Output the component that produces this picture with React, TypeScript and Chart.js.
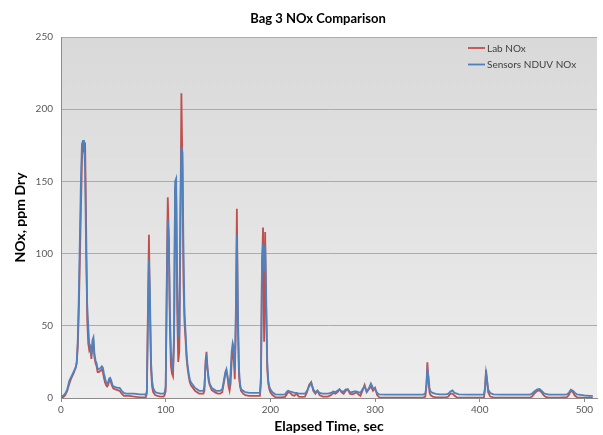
import React, { useEffect, useRef } from 'react';
import { Chart, registerables } from 'chart.js';

Chart.register(...registerables);

const chartTitle = 'Bag 3 NOx Comparison';
const xAxisTitle = 'Elapsed Time, sec';
const yAxisTitle = 'NOx, ppm Dry';
const seriesLabels = ['Lab NOx', 'Sensors NDUV NOx'];
const xTickValues = [0, 100, 200, 300, 400, 500];
const yTickValues = [0, 50, 100, 150, 200, 250];

const elapsedSec = [
  0, 2, 4, 6, 8, 10, 12, 14, 15, 16, 17, 18, 19, 20, 21, 22, 23, 24, 25, 26, 27, 28, 29, 30, 31, 32, 33, 34, 35, 36, 38, 39, 40,
  41, 42, 43, 44, 45, 46, 47, 48, 49, 50, 52, 54, 56, 57, 58, 60, 62, 65, 70, 75, 80, 81, 82, 83, 84, 85, 86, 87, 88, 90, 92, 95,
  97, 98, 99, 100, 101, 102, 103, 104, 105, 106, 107, 108, 109, 110, 111, 112, 113, 114, 115, 116, 117, 118, 119, 120, 121, 122,
  123, 124, 126, 128, 130, 132, 134, 136, 137, 138, 139, 140, 141, 142, 144, 146, 148, 150, 152, 154, 155, 156, 157, 158, 159, 160,
  161, 162, 163, 164, 165, 166, 167, 168, 169, 170, 171, 172, 174, 176, 180, 185, 190, 191, 192, 193, 194, 195, 196, 197, 198, 199,
  200, 202, 204, 205, 210, 214, 216, 217, 219, 221, 223, 225, 227, 230, 233, 235, 237, 239, 241, 243, 245, 247, 250, 255, 258, 260,
  262, 264, 266, 268, 270, 272, 274, 276, 278, 280, 282, 284, 286, 288, 290, 292, 294, 296, 298, 300, 302, 304, 310, 320, 330, 340,
  346, 348, 349, 350, 351, 352, 353, 355, 358, 362, 368, 370, 372, 374, 376, 378, 380, 390, 400, 404, 405, 406, 407, 408, 410, 413,
  420, 430, 440, 448, 450, 452, 455, 457, 459, 461, 463, 466, 475, 480, 483, 485, 487, 489, 491, 493, 496, 500, 505, 508,
];

const labNOx = [
  0.5, 0.5, 2, 5, 10, 14, 17, 21, 24, 35, 60, 95, 130, 165, 178, 170, 177, 120, 55, 38, 33, 35, 27, 36, 38, 28, 24, 22, 18, 18, 19, 20, 18,
  14, 11, 9, 8, 9, 12, 13, 10, 8, 6.5, 6, 5.5, 5, 4, 3, 1.5, 1.5, 1.5, 1, 0.5, 0.5, 0.5, 3, 60, 113, 60, 20, 8, 4, 2, 1.5, 1,
  1, 1, 2, 5, 80, 139, 110, 50, 22, 17, 15, 40, 146, 140, 60, 25, 32, 110, 211, 160, 80, 52, 40, 27, 20, 15,
  11, 9, 7, 5, 4, 3, 3, 3, 5, 25, 32, 20, 12, 9, 5.5, 4.5, 3.5, 3, 3, 4, 8, 12, 17, 19, 15, 8,
  5, 10, 25, 32, 28, 13, 50, 131, 50, 15, 8, 5, 3, 2, 1.5, 1.5, 1.5, 10, 90, 118, 39, 115, 60, 20, 10, 6,
  4, 2, 1, 0.5, 0.5, 0.8, 3, 4, 3.5, 2, 1.5, 3, 1, 0.8, 1, 4, 9, 11, 5, 3, 5, 2, 1, 1, 2, 3.5,
  3, 4, 6, 4, 3, 5, 6, 3, 2.5, 3, 4, 2.5, 1.5, 5, 9, 4, 6, 8, 5, 7, 2, 0.5, 0.3, 0.3, 0.3, 0.3,
  0.3, 1, 8, 24.7, 12, 4, 2, 1, 0.5, 0.5, 0.5, 1, 3, 3, 1.5, 0.5, 0.3, 0.3, 0.3, 0.5, 6, 19.6, 12, 4, 1, 0.5,
  0.3, 0.3, 0.3, 0.3, 1, 3, 5, 5.3, 4, 2, 0.8, 0.3, 0.3, 0.5, 0.5, 2, 5, 4, 1.5, 0.5, 0.3, 0.3, 0.3, 0.3,
];

const sensorNOx = [
  1.5, 1.5, 3, 6, 12, 15, 18, 21, 25, 40, 70, 110, 150, 176, 178, 178, 160, 100, 65, 50, 37, 36, 30, 40, 42, 30, 26, 24, 20, 20, 21, 22, 21,
  17, 14, 11, 10, 11, 13.5, 14, 12, 9.5, 8, 7.5, 7, 7, 6, 5, 3.5, 3, 3, 3, 2.5, 2.5, 2, 5, 50, 96, 70, 25, 12, 7, 4, 3.5, 3,
  3, 3, 4, 8, 70, 124, 110, 60, 32, 22, 20, 45, 150, 152, 80, 43, 45, 130, 174, 170, 100, 59, 45, 30, 22, 17,
  13, 11, 9, 7, 6, 5, 5, 5, 8, 22, 27, 20, 14, 10, 7, 6, 5, 5, 5, 6, 10, 14, 18, 20, 15, 11,
  9, 18, 32, 38, 35, 20, 60, 113, 60, 20, 10, 6, 5, 4, 3.5, 3.5, 3.5, 15, 95, 107, 88, 106, 70, 25, 12, 8,
  6, 4, 3, 2.5, 2.3, 2.5, 4.5, 5, 4.5, 4, 3.5, 3.5, 3, 3, 3, 5, 8, 10.5, 6, 4, 5, 3.5, 3, 3, 3.5, 4.5,
  4, 5, 6, 4.5, 4.5, 6, 6, 4, 4, 4.5, 4.5, 4, 3.5, 6, 8, 4.5, 6.5, 10, 7, 6, 3.5, 2.5, 2.3, 2.3, 2.3, 2.3,
  2.3, 3, 8, 19.6, 15, 7, 4.5, 3.5, 2.8, 2.5, 2.5, 3, 4.5, 5.3, 3.5, 3, 2.5, 2.3, 2.3, 2.5, 7, 17.3, 12, 6, 3.5, 2.5,
  2.3, 2.3, 2.3, 2.3, 3, 4.5, 6, 6.2, 5, 3.5, 2.8, 2.3, 2.3, 2.3, 2.5, 3.5, 5.8, 5, 3.5, 2.5, 2.2, 1.8, 1.5, 1.5,
];

const FONT = 'Lato, "Noto Sans", sans-serif';

export default function App() {
  const ref = useRef<HTMLCanvasElement>(null);

  useEffect(() => {
    document.body.style.margin = '0';
    const canvas = ref.current;
    if (!canvas) return;

    const plotBg = {
      id: 'plotBg',
      beforeDraw(chart: any) {
        const { ctx, chartArea: a } = chart;
        const g = ctx.createLinearGradient(0, a.top, 0, a.bottom);
        g.addColorStop(0, '#d9d9d9');
        g.addColorStop(1, '#ededed');
        ctx.save();
        ctx.fillStyle = g;
        ctx.fillRect(a.left, a.top, a.right - a.left, a.bottom - a.top);
        ctx.restore();
      },
    };

    const titleAndLegend = {
      id: 'titleAndLegend',
      afterDraw(chart: any) {
        const { ctx, chartArea: a } = chart;
        ctx.save();
        ctx.fillStyle = '#000';
        ctx.font = `bold 13px ${FONT}`;
        ctx.textAlign = 'center';
        ctx.textBaseline = 'middle';
        ctx.fillText(chartTitle, 318, 19);

        ctx.font = `10px ${FONT}`;
        ctx.textAlign = 'left';
        chart.data.datasets.forEach((ds: any, i: number) => {
          const y = a.top + 11 + i * 16.5;
          ctx.strokeStyle = ds.borderColor;
          ctx.lineWidth = 1.8;
          ctx.beginPath();
          ctx.moveTo(a.right - 129, y);
          ctx.lineTo(a.right - 112, y);
          ctx.stroke();
          ctx.fillStyle = '#404040';
          ctx.fillText(ds.label, a.right - 110, y + 0.5);
        });
        ctx.restore();
      },
    };

    const chart = new Chart(canvas, {
      type: 'line',
      data: {
        datasets: [
          {
            label: seriesLabels[0],
            data: elapsedSec.map((x, i) => ({ x, y: labNOx[i] })),
            borderColor: '#C0504D',
            borderWidth: 1.8,
            pointRadius: 0,
            tension: 0,
            order: 2,
          },
          {
            label: seriesLabels[1],
            data: elapsedSec.map((x, i) => ({ x, y: sensorNOx[i] })),
            borderColor: '#4F81BD',
            borderWidth: 1.8,
            pointRadius: 0,
            tension: 0,
            order: 1,
          },
        ],
      },
      options: {
        animation: false,
        responsive: false,
        layout: { padding: { top: 37, right: 6, left: 0, bottom: 0 } },
        plugins: {
          legend: { display: false },
          tooltip: { enabled: false },
          title: { display: false },
        },
        scales: {
          x: {
            type: 'linear',
            min: 0,
            max: 512,
            afterBuildTicks(s: any) {
              s.ticks = xTickValues.map((v) => ({ value: v }));
            },
            afterFit(s: any) {
              s.height = 37;
            },
            ticks: { padding: 2, color: '#595959', font: { family: FONT, size: 10 }, maxRotation: 0 },
            grid: { drawOnChartArea: false, drawTicks: true, tickLength: 4, color: '#8c8c8c' },
            border: { display: true, color: '#8c8c8c' },
            title: {
              display: true,
              text: xAxisTitle,
              color: '#000',
              font: { family: FONT, size: 14, weight: 'bold' },
              padding: { top: 0, bottom: 0 },
            },
          },
          y: {
            type: 'linear',
            min: 0,
            max: 250,
            afterBuildTicks(s: any) {
              s.ticks = yTickValues.map((v) => ({ value: v }));
            },
            afterFit(s: any) {
              s.width = 61;
            },
            ticks: { padding: 8, color: '#595959', font: { family: FONT, size: 10 } },
            grid: { color: '#ababab', drawTicks: false },
            border: { display: true, color: '#8c8c8c' },
            title: {
              display: true,
              text: yAxisTitle,
              color: '#000',
              font: { family: FONT, size: 14, weight: 'bold' },
              padding: { top: 12, bottom: 0 },
            },
          },
        },
      },
      plugins: [plotBg, titleAndLegend],
    });

    return () => chart.destroy();
  }, []);

  return <canvas ref={ref} width={603} height={435} />;
}
